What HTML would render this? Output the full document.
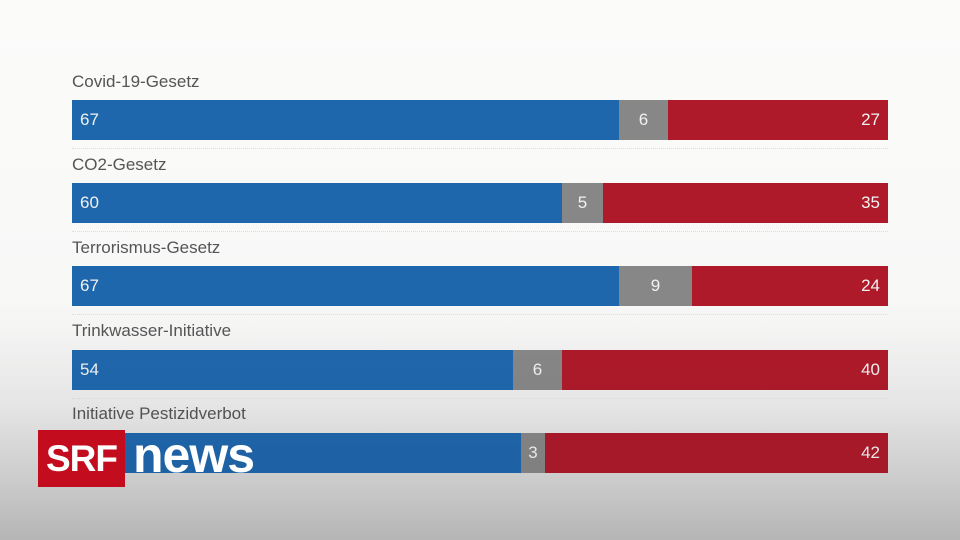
<!DOCTYPE html>
<html><head><style>
body{margin:0;width:960px;height:540px;overflow:hidden;position:relative;font-family:"Liberation Sans",sans-serif;
background:linear-gradient(to bottom,#fbfbfa 0%,#f8f8f7 55%,#ececec 75%,#d6d6d6 90%,#c4c4c4 100%);}
.lbl{position:absolute;left:72px;font-size:17px;color:#555;}
.bar{position:absolute;left:72px;width:816px;height:40px;display:flex;font-size:17px;color:#f2f2f2;}
.bar div{height:40px;line-height:40px;box-sizing:border-box}
.b{background:#1f67ad;padding-left:8px}
.g{background:#878787;text-align:center}
.r{background:#ae1a2a;text-align:right;padding-right:8px}
.sep{position:absolute;left:72px;width:816px;border-top:1px dotted #ddd}
.ov{position:absolute;left:0;top:0;width:960px;height:540px;background:linear-gradient(to bottom,rgba(0,0,0,0) 0%,rgba(0,0,0,0) 60%,rgba(0,0,0,0.04) 80%,rgba(0,0,0,0.08) 100%)}
.logo{position:absolute;left:38px;top:430px;width:87px;height:57px;background:#c30d1f;color:#fff;font-weight:bold;font-size:37px;line-height:57px;text-align:center;letter-spacing:-1px}
.news{position:absolute;left:133px;top:424px;color:#fff;font-weight:bold;font-size:50px;line-height:62px;letter-spacing:-1px}
</style></head><body>
<div class="lbl" style="top:72px">Covid-19-Gesetz</div>
<div class="bar" style="top:100px"><div class="b" style="width:547px">67</div><div class="g" style="width:49px">6</div><div class="r" style="width:220px">27</div></div>
<div class="sep" style="top:148px"></div>
<div class="lbl" style="top:155px">CO2-Gesetz</div>
<div class="bar" style="top:183px"><div class="b" style="width:490px">60</div><div class="g" style="width:41px">5</div><div class="r" style="width:285px">35</div></div>
<div class="sep" style="top:231px"></div>
<div class="lbl" style="top:238px">Terrorismus-Gesetz</div>
<div class="bar" style="top:266px"><div class="b" style="width:547px">67</div><div class="g" style="width:73px">9</div><div class="r" style="width:196px">24</div></div>
<div class="sep" style="top:314px"></div>
<div class="lbl" style="top:321px">Trinkwasser-Initiative</div>
<div class="bar" style="top:350px"><div class="b" style="width:441px">54</div><div class="g" style="width:49px">6</div><div class="r" style="width:326px">40</div></div>
<div class="sep" style="top:398px"></div>
<div class="lbl" style="top:404px">Initiative Pestizidverbot</div>
<div class="bar" style="top:433px"><div class="b" style="width:449px">55</div><div class="g" style="width:24px">3</div><div class="r" style="width:343px">42</div></div>
<div class="ov"></div>
<div class="logo">SRF</div>
<div class="news">news</div>
</body></html>
